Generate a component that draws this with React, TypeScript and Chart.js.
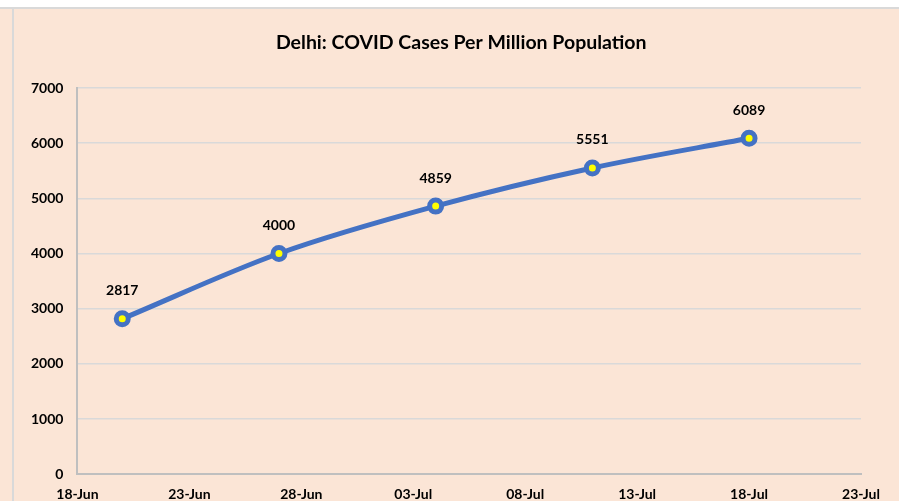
import React, { useEffect, useRef } from "react";
import { Chart, registerables } from "chart.js";

Chart.register(...registerables);

// Days since 18-Jun
const dayOffsets = [2, 9, 16, 23, 30];
const pointDates = ["20-Jun", "27-Jun", "04-Jul", "11-Jul", "18-Jul"];
const casesPerMillion = [2817, 4000, 4859, 5551, 6089];
const xTickLabels = ["18-Jun", "23-Jun", "28-Jun", "03-Jul", "08-Jul", "13-Jul", "18-Jul", "23-Jul"];
const yTicks = [0, 1000, 2000, 3000, 4000, 5000, 6000, 7000];
const chartTitle = "Delhi: COVID Cases Per Million Population";

const FONT = "Lato, 'Open Sans', sans-serif";

const dataLabelPlugin = {
  id: "dataLabels",
  afterDatasetsDraw(chart: any) {
    const ctx = chart.ctx;
    const meta = chart.getDatasetMeta(0);
    ctx.save();
    ctx.font = `bold 14px ${FONT}`;
    ctx.fillStyle = "#000000";
    ctx.textAlign = "center";
    ctx.textBaseline = "middle";
    meta.data.forEach((pt: any, i: number) => {
      ctx.fillText(String(casesPerMillion[i]), pt.x, pt.y - 28);
    });
    ctx.restore();
  },
};

const titlePlugin = {
  id: "customTitle",
  afterDraw(chart: any) {
    const ctx = chart.ctx;
    const area = chart.chartArea;
    ctx.save();
    ctx.font = `bold 19.5px ${FONT}`;
    ctx.fillStyle = "#000000";
    ctx.textAlign = "center";
    ctx.textBaseline = "middle";
    ctx.fillText(chartTitle, (area.left + area.right) / 2 - 8, area.top - 45);
    ctx.restore();
  },
};

export default function App() {
  const ref = useRef<HTMLCanvasElement | null>(null);

  useEffect(() => {
    if (!ref.current) return;
    const chart = new Chart(ref.current, {
      type: "line",
      data: {
        datasets: [
          {
            label: "Cases per million",
            data: dayOffsets.map((d, i) => ({ x: d, y: casesPerMillion[i] })),
            borderColor: "#4472C4",
            borderWidth: 5,
            cubicInterpolationMode: "monotone",
            pointRadius: 6,
            pointBorderWidth: 5,
            pointBorderColor: "#4472C4",
            pointBackgroundColor: "#FFFF00",
            fill: false,
          },
        ],
      },
      options: {
        animation: false,
        responsive: false,
        maintainAspectRatio: false,
        layout: { padding: { left: 2, right: 68, top: 79, bottom: -14 } },
        plugins: {
          legend: { display: false },
          tooltip: { enabled: false },
          title: { display: false },
        },
        scales: {
          x: {
            type: "linear",
            min: 0,
            max: 35,
            grid: { display: false, drawTicks: false },
            border: { display: true, color: "#BFBFBF", width: 2 },
            afterBuildTicks: (axis: any) => {
              axis.ticks = xTickLabels.map((_, i) => ({ value: i * 5 }));
            },
            ticks: {
              color: "#000000",
              font: { family: FONT, size: 14, weight: "bold" },
              padding: 12,
              maxRotation: 0,
              autoSkip: false,
              callback: (v: any) => xTickLabels[Math.round(Number(v) / 5)] ?? "",
            },
          },
          y: {
            min: 0,
            max: 7000,
            afterBuildTicks: (axis: any) => {
              axis.ticks = yTicks.map((v) => ({ value: v }));
            },
            grid: { color: "#D9D9D9", lineWidth: 1.5, drawTicks: false },
            border: { display: true, color: "#BFBFBF", width: 2 },
            ticks: {
              color: "#000000",
              font: { family: FONT, size: 14, weight: "bold" },
              padding: 14,
              callback: (v: any) => String(v),
            },
          },
        },
      },
      plugins: [dataLabelPlugin, titlePlugin],
    } as any);
    return () => chart.destroy();
  }, []);

  return (
    <div
      style={{
        position: "fixed",
        left: 0,
        top: 0,
        width: 899,
        height: 501,
        background: "#FBE5D6",
        overflow: "hidden",
      }}
    >
      <div style={{ position: "absolute", left: 0, top: 0, width: 899, height: 7, background: "#FFFFFF" }} />
      <div style={{ position: "absolute", left: 0, top: 7, width: 899, height: 2, background: "#D9D9D9" }} />
      <div style={{ position: "absolute", left: 12, top: 9, width: 2, height: 492, background: "#D9D9D9" }} />
      <canvas
        ref={ref}
        width={914}
        height={492}
        style={{ position: "absolute", left: 15, top: 9, width: 914, height: 492 }}
      />
    </div>
  );
}
